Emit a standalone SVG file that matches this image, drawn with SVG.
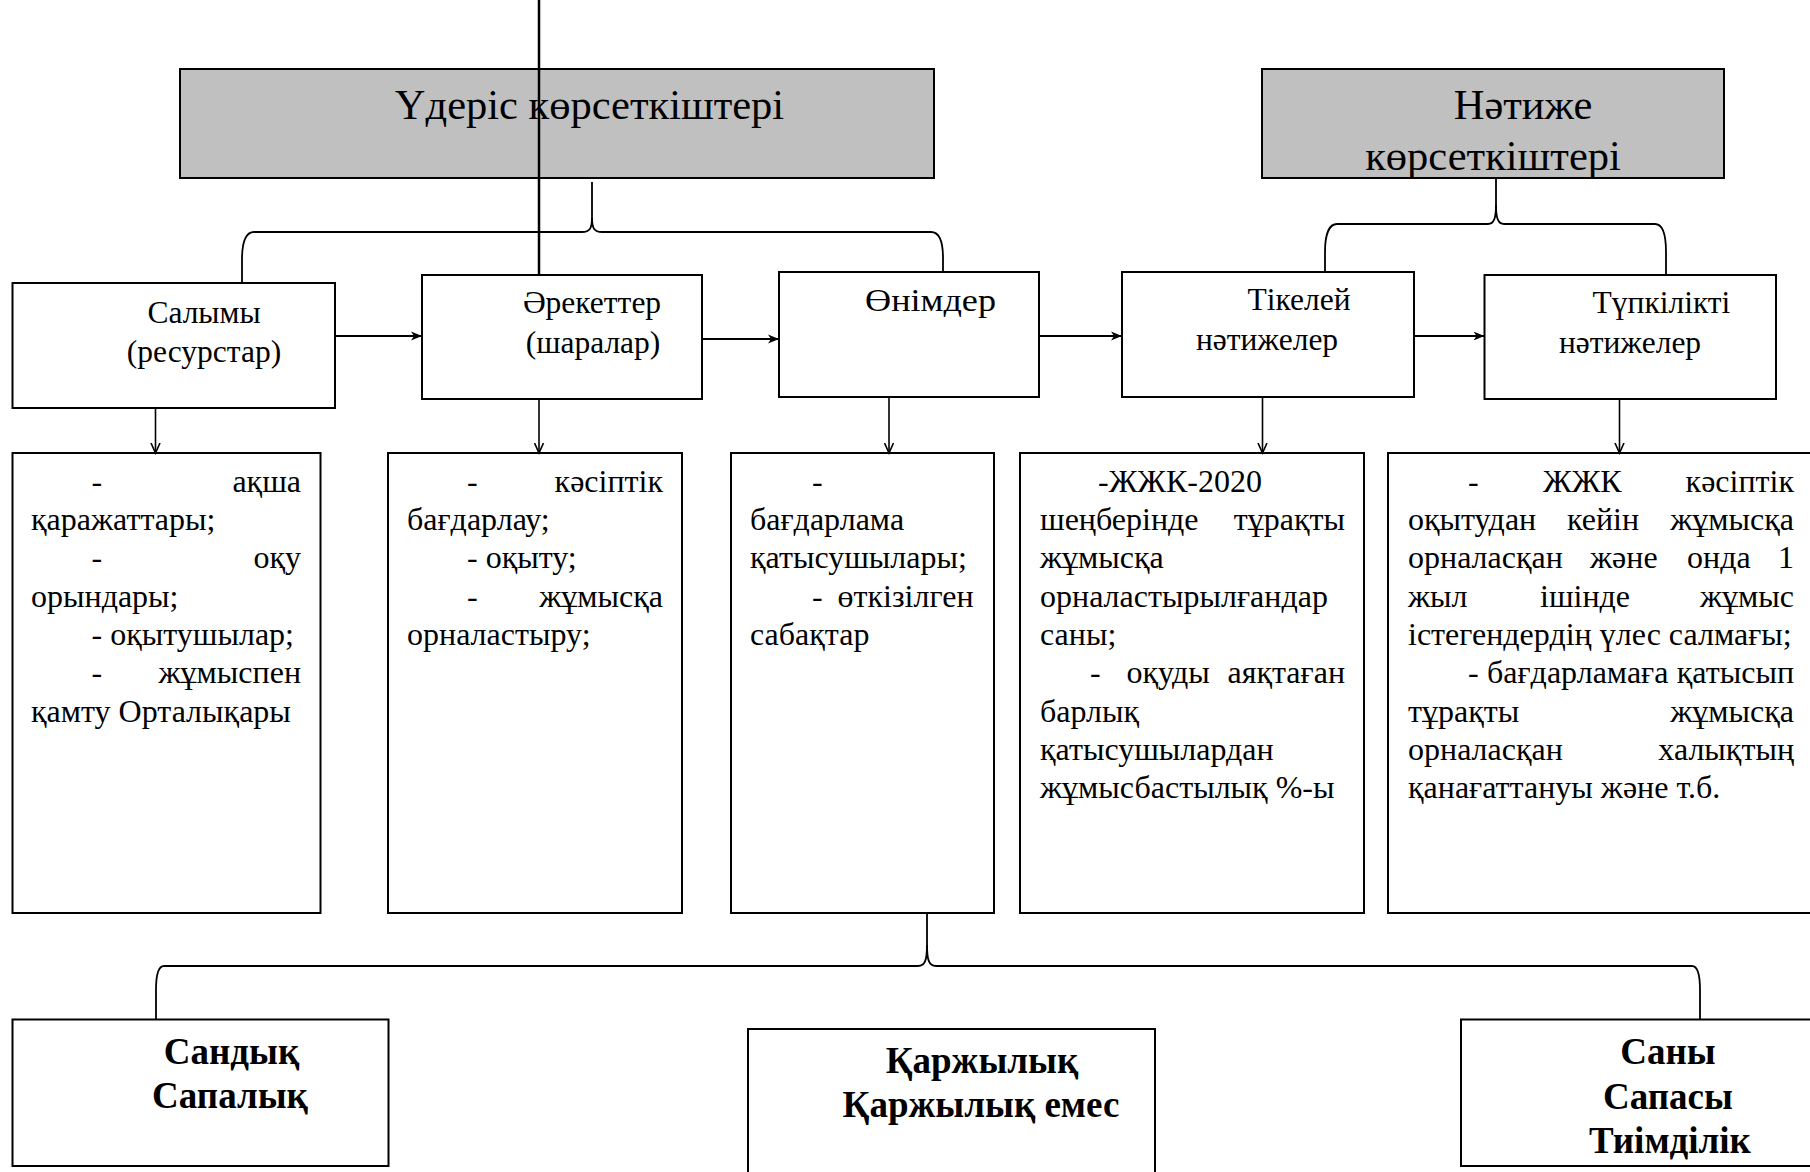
<svg xmlns="http://www.w3.org/2000/svg" width="1810" height="1172" viewBox="0 0 1810 1172">
<style>
text{font-family:"Liberation Serif","Times New Roman",serif;fill:#000}
.box{fill:#fff;stroke:#000;stroke-width:2}
.hdr{fill:#c0c0c0;stroke:#000;stroke-width:2}
.h{font-size:42.5px;text-anchor:middle}
.c{font-size:31.5px;text-anchor:middle}
.t{font-size:32px}
.e{text-anchor:end}
.b{font-size:37px;font-weight:bold;text-anchor:middle}
.ln{fill:none;stroke:#000;stroke-width:1.8}
.ar{fill:none;stroke:#000;stroke-width:1.8;marker-end:url(#af)}
.av{fill:none;stroke:#000;stroke-width:1.6;marker-end:url(#av)}
</style>
<defs>
<marker id="af" markerUnits="userSpaceOnUse" markerWidth="12" markerHeight="10" refX="11" refY="5" orient="auto" viewBox="0 0 12 10">
<path d="M0,0.5 L11,5 L0,9.5 L3,5 z" fill="#000"/>
</marker>
<marker id="av" markerUnits="userSpaceOnUse" markerWidth="12" markerHeight="12" refX="10" refY="5" orient="auto" viewBox="0 0 12 10">
<path d="M0,0.5 L10,5 L0,9.5" fill="none" stroke="#000" stroke-width="1.6"/>
</marker>
</defs>
<rect width="1810" height="1172" fill="#fff"/>

<g id="process-header">
<rect class="hdr" x="180" y="69" width="754" height="109"/>
<text class="h" x="589.5" y="119">Үдеріс көрсеткіштері</text>
</g>
<g id="result-header">
<rect class="hdr" x="1262" y="69" width="462" height="109"/>
<text class="h" x="1523" y="119">Нәтиже</text>
<text class="h" x="1493" y="170">көрсеткіштері</text>
</g>

<g id="inputs">
<rect class="box" x="12.5" y="283" width="322.5" height="125"/>
<text class="c" x="204" y="323">Салымы</text>
<text class="c" x="204" y="362">(ресурстар)</text>
</g>
<g id="activities">
<rect class="box" x="422" y="275" width="280" height="124"/>
<text class="c" x="592" y="313">Әрекеттер</text>
<text class="c" x="593" y="353">(шаралар)</text>
</g>
<g id="products">
<rect class="box" x="779" y="272" width="260" height="125"/>
<text class="c" x="930.5" y="311" textLength="131" lengthAdjust="spacingAndGlyphs">Өнімдер</text>
</g>
<g id="direct-results">
<rect class="box" x="1122" y="272" width="292" height="125"/>
<text class="c" x="1299" y="310">Тікелей</text>
<text class="c" x="1267" y="350">нәтижелер</text>
</g>
<g id="final-results">
<rect class="box" x="1484.5" y="275" width="291.5" height="124"/>
<text class="c" x="1661.5" y="313">Түпкілікті</text>
<text class="c" x="1630" y="353">нәтижелер</text>
</g>

<g id="inputs-list">
<rect class="box" x="12.5" y="453" width="308" height="460"/>
<text class="t" x="91.5" y="491.7">-</text><text class="t e" x="301" y="491.7">ақша</text>
<text class="t" x="31" y="530">қаражаттары;</text>
<text class="t" x="91.5" y="568.3">-</text><text class="t e" x="301" y="568.3">оқу</text>
<text class="t" x="31" y="606.7">орындары;</text>
<text class="t" x="91.5" y="645">- оқытушылар;</text>
<text class="t" x="91.5" y="683.3">-</text><text class="t e" x="301" y="683.3">жұмыспен</text>
<text class="t" x="31" y="721.7">қамту Орталықары</text>
</g>
<g id="activities-list">
<rect class="box" x="388" y="453" width="294" height="460"/>
<text class="t" x="467" y="491.7">-</text><text class="t e" x="663" y="491.7">кәсіптік</text>
<text class="t" x="407" y="530">бағдарлау;</text>
<text class="t" x="467" y="568.3">- оқыту;</text>
<text class="t" x="467" y="606.7">-</text><text class="t e" x="663" y="606.7">жұмысқа</text>
<text class="t" x="407" y="645">орналастыру;</text>
</g>
<g id="products-list">
<rect class="box" x="731" y="453" width="263" height="460"/>
<text class="t" x="812" y="491.7">-</text>
<text class="t" x="750" y="530">бағдарлама</text>
<text class="t" x="750" y="568.3">қатысушылары;</text>
<text class="t" x="812" y="606.7">-</text><text class="t e" x="973.5" y="606.7">өткізілген</text>
<text class="t" x="750" y="645">сабақтар</text>
</g>
<g id="direct-list">
<rect class="box" x="1020" y="453" width="344" height="460"/>
<text class="t" x="1098" y="491.7">-ЖЖК-2020</text>
<text class="t" x="1040" y="530">шеңберінде</text><text class="t e" x="1345" y="530">тұрақты</text>
<text class="t" x="1040" y="568.3">жұмысқа</text>
<text class="t" x="1040" y="606.7">орналастырылғандар</text>
<text class="t" x="1040" y="645">саны;</text>
<text class="t" x="1090" y="683.3">-</text><text class="t" x="1126.5" y="683.3">оқуды</text><text class="t e" x="1345" y="683.3">аяқтаған</text>
<text class="t" x="1040" y="721.7">барлық</text>
<text class="t" x="1040" y="760">қатысушылардан</text>
<text class="t" x="1040" y="798.3">жұмысбастылық %-ы</text>
</g>
<g id="final-list">
<rect class="box" x="1388" y="453" width="426" height="460"/>
<text class="t" x="1468" y="491.7">-</text><text class="t" x="1543" y="491.7">ЖЖК</text><text class="t e" x="1794" y="491.7">кәсіптік</text>
<text class="t" x="1408" y="530">оқытудан</text><text class="t" x="1567" y="530">кейін</text><text class="t e" x="1794" y="530">жұмысқа</text>
<text class="t" x="1408" y="568.3">орналасқан</text><text class="t" x="1590" y="568.3">және</text><text class="t" x="1687" y="568.3">онда</text><text class="t e" x="1794" y="568.3">1</text>
<text class="t" x="1408" y="606.7">жыл</text><text class="t" x="1540" y="606.7">ішінде</text><text class="t e" x="1794" y="606.7">жұмыс</text>
<text class="t" x="1408" y="645">істегендердің үлес салмағы;</text>
<text class="t" x="1468" y="683.3">-</text><text class="t" x="1487" y="683.3">бағдарламаға</text><text class="t e" x="1794" y="683.3">қатысып</text>
<text class="t" x="1408" y="721.7">тұрақты</text><text class="t e" x="1794" y="721.7">жұмысқа</text>
<text class="t" x="1408" y="760">орналасқан</text><text class="t e" x="1794" y="760">халықтың</text>
<text class="t" x="1408" y="798.3">қанағаттануы және т.б.</text>
</g>

<g id="type-a">
<rect class="box" x="12.5" y="1019.5" width="376" height="146.5"/>
<text class="b" x="231.5" y="1064">Сандық</text>
<text class="b" x="230" y="1108">Сапалық</text>
</g>
<g id="type-b">
<rect class="box" x="748" y="1029" width="407" height="160"/>
<text class="b" x="982" y="1073">Қаржылық</text>
<text class="b" x="981" y="1117">Қаржылық емес</text>
</g>
<g id="type-c">
<rect class="box" x="1461" y="1019.5" width="360" height="146.5"/>
<text class="b" x="1668" y="1064">Саны</text>
<text class="b" x="1668" y="1109">Сапасы</text>
<text class="b" x="1670" y="1153">Тиімділік</text>
</g>

<g id="connectors">
<line x1="539" y1="0" x2="539" y2="275" stroke="#000" stroke-width="2.5"/>
<path class="ln" d="M592,182 L592,218 C592,228 590,232 582,232 L254,232 C246,232 242,242 242,260 L242,283"/>
<path class="ln" d="M592,218 C592,228 594,232 602,232 L931,232 C939,232 943,242 943,258 L943,272"/>
<path class="ln" d="M1496,178 L1496,205 C1496,218 1494,224 1488,224 L1337,224 C1329,224 1325,235 1325,252 L1325,272"/>
<path class="ln" d="M1496,205 C1496,218 1498,224 1504,224 L1655,224 C1663,224 1666,235 1666,252 L1666,275"/>
<path class="ln" d="M927,914 L927,945 C927,960 925,966 918,966 L164,966 C158,966 156,975 156,990 L156,1019"/>
<path class="ln" d="M927,945 C927,960 929,966 936,966 L1692,966 C1698,966 1700,975 1700,990 L1700,1019"/>
<line class="ar" x1="335" y1="336" x2="422" y2="336"/>
<line class="ar" x1="702" y1="339" x2="779" y2="339"/>
<line class="ar" x1="1039" y1="336" x2="1122" y2="336"/>
<line class="ar" x1="1414" y1="336" x2="1484.5" y2="336"/>
<line class="av" x1="155.5" y1="408" x2="155.5" y2="453"/>
<line class="av" x1="539" y1="399" x2="539" y2="453"/>
<line class="av" x1="889" y1="397" x2="889" y2="453"/>
<line class="av" x1="1262.5" y1="397" x2="1262.5" y2="453"/>
<line class="av" x1="1619.5" y1="399" x2="1619.5" y2="453"/>
</g>
</svg>
